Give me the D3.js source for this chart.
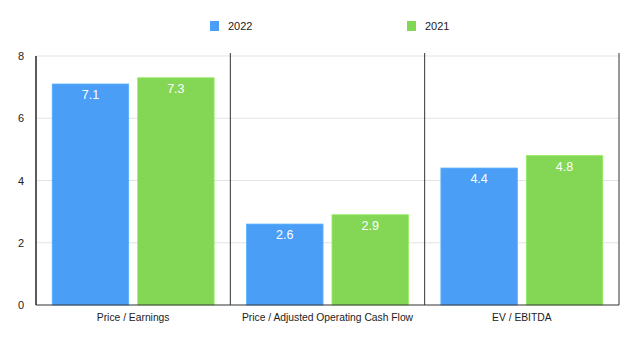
<!DOCTYPE html>
<html><head><meta charset="utf-8">
<script src="https://cdn.jsdelivr.net/npm/d3@7"></script>
<style>body{margin:0;background:#fff}svg{display:block;font-family:"Liberation Sans",Arial,Helvetica,sans-serif}</style>
</head><body><svg id="c" width="640" height="338"></svg>
<script>
const categories = ["Price / Earnings", "Price / Adjusted Operating Cash Flow", "EV / EBITDA"];
const seriesNames = ["2022", "2021"];
const values2022 = [7.1, 2.6, 4.4];
const values2021 = [7.3, 2.9, 4.8];
const yTicks = [0, 2, 4, 6, 8];
const colors = ["#4a9ef5", "#84d655"];

const svg = d3.select("#c");
const m = {l: 36, r: 21, t: 56, b: 33};
const W = 640, H = 338;
const x = d3.scaleBand().domain(categories).range([m.l, W - m.r]).paddingInner(0).paddingOuter(0);
const x1 = d3.scaleBand().domain(seriesNames).range([0, x.bandwidth()]).paddingInner(0.105).paddingOuter(0.19);
const y = d3.scaleLinear().domain([0, 8]).range([H - m.b, m.t]);

// grid
svg.append("g").selectAll("line").data(yTicks.filter(d => d > 0)).join("line")
  .attr("x1", m.l).attr("x2", W - m.r).attr("y1", d => y(d)).attr("y2", d => y(d))
  .attr("stroke", "#e3e3e3").attr("stroke-width", 1);

// bars
const data = categories.map((c, i) => ({c, vals: [values2022[i], values2021[i]]}));
const g = svg.append("g");
data.forEach(d => {
  d.vals.forEach((v, j) => {
    const bx = x(d.c) + x1(seriesNames[j]);
    g.append("rect").attr("x", bx).attr("y", y(v)).attr("width", x1.bandwidth()).attr("height", y(0) - y(v))
      .attr("fill", colors[j]).attr("stroke", d3.color(colors[j]).brighter(0.3)).attr("stroke-width", 0.8);
    g.append("text").attr("x", bx + x1.bandwidth() / 2).attr("y", y(v) + 15).attr("text-anchor", "middle")
      .attr("fill", "#fff").attr("font-size", 12.5).text(v.toFixed(1));
  });
});

// dividers and borders
const edges = categories.map(c => x(c)).concat([W - m.r]);
svg.append("g").selectAll("line").data(edges).join("line")
  .attr("x1", d => d).attr("x2", d => d).attr("y1", (d, i) => i === 0 ? y(8) : y(8) - 3).attr("y2", y(0))
  .attr("stroke", "#333").attr("stroke-width", 1);
svg.append("line").attr("x1", m.l).attr("x2", W - m.r).attr("y1", y(0)).attr("y2", y(0)).attr("stroke", "#333").attr("stroke-width", 1.2);
svg.append("line").attr("x1", m.l).attr("x2", m.l).attr("y1", y(8)).attr("y2", y(0)).attr("stroke", "#333").attr("stroke-width", 1.2);

// y labels
svg.append("g").selectAll("text").data(yTicks).join("text")
  .attr("x", 24).attr("y", d => y(d) + 4).attr("text-anchor", "end").attr("font-size", 11).attr("fill", "#222").text(d => d);

// x labels
svg.append("g").selectAll("text").data(categories).join("text")
  .attr("x", d => x(d) + x.bandwidth() / 2).attr("y", 321).attr("text-anchor", "middle")
  .attr("font-size", 10.3).attr("fill", "#222").text(d => d);

// legend
const legX = [210, 407];
seriesNames.forEach((s, i) => {
  svg.append("rect").attr("x", legX[i]).attr("y", 21).attr("width", 9).attr("height", 10).attr("fill", colors[i]);
  svg.append("text").attr("x", legX[i] + 18).attr("y", 30).attr("font-size", 11).attr("fill", "#222").text(s);
});
</script></body></html>
